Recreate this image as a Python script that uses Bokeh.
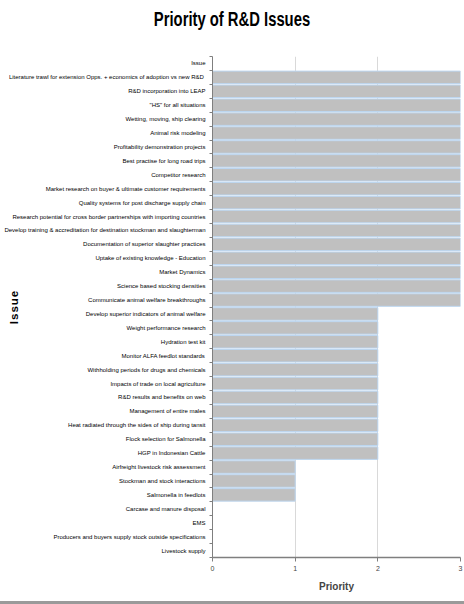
from bokeh.plotting import figure
from bokeh.models import Range1d, FixedTicker, Div
from bokeh.layouts import row
from bokeh.embed import file_html
from bokeh.resources import INLINE

# Issues listed top to bottom, with their priority score
issues = [
    "Issue",
    "Literature trawl for extension Opps. + economics of adoption vs new  R&D",
    "R&D incorporation into LEAP",
    "\"HS\" for all situations",
    "Wetting, moving, ship clearing",
    "Animal risk modeling",
    "Profitability demonstration projects",
    "Best practise for long road trips",
    "Competitor research",
    "Market research on buyer & ultimate customer requirements",
    "Quality systems for post discharge supply chain",
    "Research potential for cross border partnerships with importing countries",
    "Develop training & accreditation for destination stockman and slaughterman",
    "Documentation of superior slaughter practices",
    "Uptake of existing knowledge - Education",
    "Market Dynamics",
    "Science based stocking densities",
    "Communicate animal welfare breakthroughs",
    "Develop superior indicators of animal welfare",
    "Weight performance research",
    "Hydration test kit",
    "Monitor ALFA feedlot standards",
    "Withholding periods for drugs and chemicals",
    "Impacts of trade on local agriculture",
    "R&D results and benefits on web",
    "Management of entire males",
    "Heat radiated through the sides of ship during tansit",
    "Flock selection for Salmonella",
    "HGP in Indonesian Cattle",
    "Airfreight livestock risk assessment",
    "Stockman and stock interactions",
    "Salmonella in feedlots",
    "Carcase and manure disposal",
    "EMS",
    "Producers and buyers supply stock outside specifications",
    "Livestock supply",
]
priority = [
    0,
    3, 3, 3, 3, 3, 3, 3, 3, 3, 3, 3, 3, 3, 3, 3, 3, 3,
    2, 2, 2, 2, 2, 2, 2, 2, 2, 2, 2,
    1, 1, 1,
    0, 0, 0, 0,
]
x_ticks = [0, 1, 2, 3]

TITLE = "Priority of R&amp;D Issues"
Y_TITLE = "Issue"
X_TITLE = "Priority"

FONT = "'Liberation Sans', Arial, sans-serif"

W, H = 464, 604
LEFT, RIGHT, TOP, BOTTOM = 212, 4, 56, 47

n = len(issues)
rows = [n - 1 - i for i in range(n)]  # first issue at the top

p = figure(
    width=W, height=H,
    x_range=Range1d(0, 3), y_range=Range1d(-0.5, n - 0.5),
    output_backend="svg", toolbar_location=None,
    min_border_left=LEFT, min_border_right=RIGHT,
    min_border_top=TOP, min_border_bottom=BOTTOM,
)
p.outline_line_color = None

p.hbar(y=rows, right=priority, left=0, height=0.9,
       fill_color="#c0c0c0", line_color="#bcd6f0", line_width=1)

# y axis: labels at row centres, tick marks at row boundaries
yax = p.yaxis[0]
yax.ticker = FixedTicker(ticks=rows, minor_ticks=[k - 0.5 for k in range(n + 1)])
yax.major_label_overrides = {r: lab for r, lab in zip(rows, issues)}
yax.major_tick_out = 0
yax.major_tick_in = 0
yax.minor_tick_out = 3
yax.minor_tick_in = 0
yax.minor_tick_line_color = "#7f7f7f"
yax.axis_line_color = "#7f7f7f"
yax.major_label_text_font = FONT
yax.major_label_text_font_size = "6px"
yax.major_label_text_color = "#000000"
yax.major_label_standoff = 4

xax = p.xaxis[0]
xax.ticker = FixedTicker(ticks=x_ticks)
xax.major_label_overrides = {t: str(t) for t in x_ticks}
xax.major_tick_out = 4
xax.major_tick_in = 0
xax.minor_tick_out = 0
xax.minor_tick_in = 0
xax.major_tick_line_color = "#7f7f7f"
xax.axis_line_color = "#7f7f7f"
xax.axis_line_width = 1.5
xax.major_label_text_font = FONT
xax.major_label_text_font_size = "7px"
xax.major_label_standoff = 4
xax.axis_label = X_TITLE
xax.axis_label_text_font = FONT
xax.axis_label_text_font_style = "bold"
xax.axis_label_text_font_size = "10px"
xax.axis_label_standoff = 7

p.ygrid.grid_line_color = None
p.xgrid.ticker = FixedTicker(ticks=x_ticks)
p.xgrid.grid_line_color = "#d9d9d9"

# HTML layer laid over the canvas: page title, rotated y title, bottom rule
overlay_html = (
    f'<div style="position:relative;width:{W}px;height:{H}px;font-family:{FONT};color:#000;">'
    f'<div style="position:absolute;left:0;top:8px;width:{W}px;text-align:center;'
    f'font-weight:bold;font-size:20px;line-height:22px;white-space:nowrap;'
    f'transform:scaleX(0.74);">{TITLE}</div>'
    f'<div style="position:absolute;left:14px;top:307px;font-weight:bold;font-size:11.5px;'
    f'line-height:12px;letter-spacing:1px;white-space:nowrap;'
    f'transform:translate(-50%,-50%) rotate(-90deg);">{Y_TITLE}</div>'
    f'<div style="position:absolute;left:0;top:601px;width:{W}px;height:3px;'
    f'background:#9a9a9a;"></div>'
    '</div>'
)
overlay = Div(text=overlay_html, width=W, height=H, margin=(0, 0, 0, -W))

layout = row(p, overlay, spacing=0)

open("out.html", "w").write(file_html(layout, INLINE))
